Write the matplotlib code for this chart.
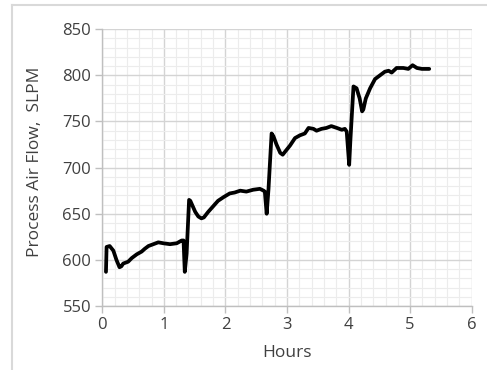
import matplotlib
matplotlib.use("Agg")
import matplotlib.pyplot as plt
from matplotlib.ticker import MultipleLocator
from matplotlib.lines import Line2D

# Process air flow trace
hours = [0.06, 0.07, 0.12, 0.18, 0.23, 0.28, 0.31, 0.34, 0.42, 0.48,
         0.56, 0.64, 0.69, 0.75, 0.83, 0.91, 0.99, 1.10, 1.21, 1.29,
         1.32, 1.34, 1.37, 1.41, 1.43, 1.51, 1.56, 1.61, 1.65, 1.72,
         1.80, 1.88, 1.97, 2.07, 2.15, 2.24, 2.34, 2.45, 2.56, 2.62,
         2.64, 2.67, 2.70, 2.72, 2.75, 2.78, 2.83, 2.89, 2.93, 2.99,
         3.05, 3.13, 3.21, 3.29, 3.35, 3.43, 3.48, 3.56, 3.64, 3.72,
         3.81, 3.89, 3.94, 3.97, 4.01, 4.03, 4.08, 4.13, 4.18, 4.22,
         4.24, 4.28, 4.35, 4.43, 4.51, 4.59, 4.65, 4.70, 4.78, 4.89,
         4.97, 5.04, 5.11, 5.19, 5.27, 5.31]
flow = [587, 614, 615, 610, 600, 592, 593, 596, 598, 602,
        606, 609, 612, 615, 617, 619, 618, 617, 618, 621,
        621, 587, 607, 665, 664, 652, 647, 645, 646, 652,
        658, 664, 668, 672, 673, 675, 674, 676, 677, 675,
        674, 650, 677, 701, 737, 734, 725, 716, 714, 719,
        724, 732, 735, 737, 743, 742, 740, 742, 743, 745,
        743, 741, 742, 739, 703, 730, 788, 786, 775, 761,
        763, 775, 786, 796, 800, 804, 805, 803, 808, 808,
        807, 811, 808, 807, 807, 807]

TEXT = '#404040'
plt.rcParams['font.family'] = ['Open Sans', 'DejaVu Sans']

fig = plt.figure(figsize=(4.87, 3.70), dpi=100)
ax = fig.add_axes([0.210, 0.173, 0.7586, 0.748])

ax.plot(hours, flow, color='black', linewidth=2.7, solid_joinstyle='round',
        solid_capstyle='round', zorder=3)

ax.set_xlim(0, 6)
ax.set_ylim(550, 850)
ax.xaxis.set_major_locator(MultipleLocator(1))
ax.xaxis.set_minor_locator(MultipleLocator(0.2))
ax.yaxis.set_major_locator(MultipleLocator(50))
ax.yaxis.set_minor_locator(MultipleLocator(10))

ax.grid(which='major', color='#d4d4d4', linewidth=1.0)
ax.grid(which='minor', color='#ececec', linewidth=0.8)
ax.set_axisbelow(True)

for side in ('top', 'right'):
    ax.spines[side].set_visible(False)
for side in ('left', 'bottom'):
    ax.spines[side].set_color('#bfbfbf')
    ax.spines[side].set_linewidth(1.0)

ax.tick_params(which='major', length=5, width=1.0, color='#bfbfbf',
               labelsize=12, labelcolor=TEXT, pad=3)
ax.tick_params(which='minor', length=0)

ax.set_xlabel('Hours', fontsize=12.5, color=TEXT)
ax.set_ylabel('Process Air Flow,  SLPM', fontsize=12.5, color=TEXT)
ax.xaxis.set_label_coords(0.5, -0.17)
ax.xaxis.label.set_va('center')
ax.yaxis.set_label_coords(-0.182, 0.52)
ax.yaxis.label.set_va('center')

# light chart-area border (left and top edges only visible)
fig.add_artist(Line2D([12 / 487, 12 / 487], [0, 1 - 5 / 370], transform=fig.transFigure,
                      color='#d9d9d9', linewidth=1.5))
fig.add_artist(Line2D([12 / 487, 1], [1 - 5 / 370, 1 - 5 / 370], transform=fig.transFigure,
                      color='#d9d9d9', linewidth=1.5))

fig.savefig('out.png', dpi=100, facecolor='white')
